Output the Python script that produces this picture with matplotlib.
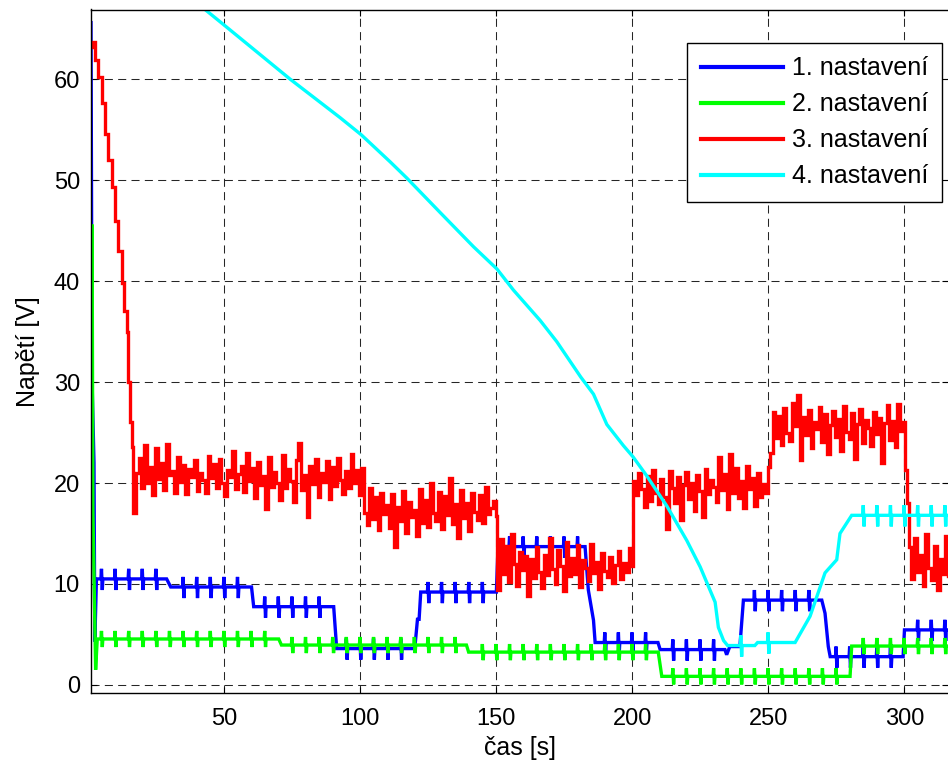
import numpy as np
import matplotlib
matplotlib.use("Agg")
import matplotlib.pyplot as plt

plt.rcParams['font.family'] = ['Liberation Sans', 'DejaVu Sans']
plt.rcParams['lines.scale_dashes'] = False

# ---------------- data ----------------
x_ticks = [50, 100, 150, 200, 250, 300]
y_ticks = [0, 10, 20, 30, 40, 50, 60]
labels = ["1. nastavení", "2. nastavení", "3. nastavení", "4. nastavení"]
colors = ["#0000FF", "#00FF00", "#FF0000", "#00FFFF"]

# periodic disturbance instants (s)
tick_times = [5, 10, 15, 20, 25, 30, 35, 40, 45, 50, 55, 60, 65, 70, 75, 80,
              85, 90, 95, 100, 105, 110, 115, 120, 125, 130, 135, 140, 145,
              150, 155, 160, 165, 170, 175, 180, 185, 190, 195, 200, 205, 210,
              215, 220, 225, 230, 235, 240, 245, 250, 255, 260, 265, 270, 275,
              280, 285, 290, 295, 300, 305, 310, 315]

# series 1 (blue): start transient, then level segments (start, end, level)
blue_head_t = [1.0, 1.4, 2.1, 2.4]
blue_head_v = [65.6, 30.0, 22.0, 4.3]
blue_seg_start = [3.0, 30.3, 60.8, 91.3, 121.0, 122.2, 150.6, 183.8, 185.7, 186.3, 210.2, 234.5, 235.8, 240.8, 270.8, 272.0, 272.7, 300.0]
blue_seg_end   = [28.8, 60.0, 90.2, 120.0, 121.6, 150.0, 182.6, 183.8, 185.7, 209.4, 234.0, 234.8, 239.5, 269.6, 270.8, 272.0, 299.5, 316.0]
blue_seg_level = [10.5, 9.7, 7.75, 3.6, 6.5, 9.2, 13.7, 9.4, 6.4, 4.2, 3.5, 3.1, 3.8, 8.4, 7.1, 3.8, 2.8, 5.45]

# series 2 (green)
green_head_t = [1.0, 1.4, 1.7, 2.7]
green_head_v = [31.0, 45.6, 17.3, 1.5]
green_seg_start = [3.3, 71.0, 139.8, 210.8, 280.6]
green_seg_end   = [70.0, 139.0, 209.5, 280.0, 316.0]
green_seg_level = [4.55, 3.95, 3.25, 0.85, 3.85]

# series 3 (red): start decay
red_head_t = [1.0, 1.25, 2.5, 3.7, 4.9, 6.1, 7.25, 8.6, 9.8, 11.0, 12.3, 13.1, 14.2, 14.6, 15.3, 16.0]
red_head_v = [63.2, 63.7, 61.9, 60.2, 57.6, 54.6, 52.0, 49.3, 46.0, 43.0, 39.8, 37.0, 35.0, 30.0, 26.0, 23.6]
# noisy segments: (start time, end time, samples)
red_b = [17.0, 21.0, 22.5, 19.5, 23.8, 20.0, 21.6, 18.8, 23.5, 20.4, 22.0, 19.3, 23.9, 20.8,
         21.2, 19.0, 22.6, 20.1, 21.8, 18.9, 21.4, 20.6, 22.3, 19.2, 21.0, 20.3, 19.0, 22.7,
         20.5, 21.9, 19.5, 22.4, 20.0, 18.7, 21.3, 20.6, 23.2, 19.4, 20.9, 21.7, 19.1, 23.0,
         20.2, 21.5, 18.5, 22.1, 19.8, 20.7, 17.4, 22.6, 19.6, 21.1, 20.0, 18.3, 22.8, 19.5,
         21.4, 20.2, 18.1, 22.3, 24.0, 19.3, 20.8, 16.6, 21.7, 19.9, 22.4, 18.6, 21.0, 20.1,
         22.2, 18.4, 21.6, 19.7, 22.5, 20.3, 18.9, 21.2, 19.5, 22.9, 20.0, 21.3, 18.8]
red_c = [21.5, 17.0, 15.8, 19.5, 16.4, 18.6, 15.3, 19.0, 16.9, 17.8, 15.5, 18.9, 13.7, 17.6,
         16.2, 19.2, 15.0, 18.1, 16.6, 17.3, 14.8, 19.4, 16.0, 18.3, 15.6, 20.0, 17.0, 16.2,
         19.1, 15.4, 18.7, 16.8, 20.5, 15.9, 17.9, 14.6, 19.3, 16.5, 18.0, 15.2, 19.0, 17.1,
         16.3, 18.8, 16.0, 19.6, 16.9, 17.5, 18.2, 16.7]
red_d = [9.4, 14.5, 11.0, 13.8, 10.2, 14.9, 12.0, 9.8, 13.2, 11.4, 12.8, 8.8, 12.5, 10.6,
         13.7, 11.2, 9.6, 12.9, 10.9, 14.6, 11.5, 10.0, 13.4, 11.8, 9.3, 14.2, 10.8, 12.6,
         11.0, 13.9, 9.7, 12.4, 11.6, 10.3, 14.0, 11.1, 12.2, 9.5, 13.1, 11.3, 10.7, 12.7,
         10.1, 11.9, 13.3, 10.5, 12.1, 11.2, 13.6, 11.8]
red_e = [20.2, 18.8, 21.0, 19.4, 17.6, 20.7, 18.2, 21.3, 19.0, 17.9, 20.4, 18.6, 15.4, 21.2,
         19.5, 18.0, 20.6, 16.3, 19.8, 21.1, 18.4, 20.0, 17.2, 20.8, 19.2, 16.6, 21.4, 18.9,
         20.3, 19.6, 18.1, 22.6, 19.3, 20.9, 17.4, 22.9, 19.0, 21.5, 18.5, 20.2, 17.5, 21.7,
         19.4, 20.5, 17.7, 21.0, 18.6, 19.9, 19.0, 21.6]
red_f = [23.0, 27.0, 24.5, 26.6, 23.8, 27.4, 25.0, 24.2, 27.9, 25.6, 28.7, 22.3, 26.5, 24.8,
         27.2, 23.5, 26.0, 25.3, 27.5, 24.1, 26.8, 22.9, 25.7, 27.1, 24.6, 26.3, 23.2, 27.6,
         25.1, 24.4, 26.9, 22.4, 25.8, 27.3, 24.0, 26.2, 25.4, 23.7, 27.0, 24.9, 26.4, 22.0,
         25.9, 27.7, 24.3, 26.1, 23.6, 27.8, 25.2, 26.0]
red_drop_t = [300.2, 301.0, 301.8]
red_drop_v = [21.3, 18.0, 13.7]
red_g = [10.5, 14.6, 11.2, 12.9, 9.8, 14.9, 11.6, 10.4, 13.8, 9.4, 12.5, 11.0, 14.8, 10.8]
red_seg_start = [16.5, 100.3, 150.3, 200.2, 250.5]
red_seg_end = [99.5, 149.8, 199.6, 249.8, 299.4]
red_g_start, red_g_end = 302.5, 316.0

# series 4 (cyan): falling curve, then level segments
cyan_head_t = [42.9, 50.2, 74.2, 92.5, 100.3, 111.0, 117.1, 129.3, 141.6, 150.2, 156.3, 166.1,
               172.2, 181.0, 185.7, 190.6, 196.7, 200.2, 205.3, 212.7, 220.0, 224.9, 230.4,
               231.6, 233.5]
cyan_head_v = [66.9, 65.3, 60.0, 56.2, 54.5, 51.8, 50.2, 46.8, 43.4, 41.2, 39.1, 36.1, 34.0,
               30.5, 28.8, 25.8, 23.7, 22.6, 20.7, 17.7, 14.3, 11.7, 8.2, 5.7, 4.4]
cyan_seg_start = [235.0, 246.0, 265.3, 270.8, 275.1, 276.3, 280.6]
cyan_seg_end   = [245.0, 259.8, 265.3, 270.8, 275.1, 276.3, 316.0]
cyan_seg_level = [3.9, 4.2, 6.8, 11.1, 12.4, 15.0, 16.8]
cyan_tick_times = [235, 240, 250, 260, 285, 290, 295, 300, 305, 310, 315]


def build(head_t, head_v, starts, ends, levels, ticks, up, down):
    t = list(head_t)
    v = list(head_v)
    for s, e, L in zip(starts, ends, levels):
        t.append(s); v.append(L)
        for tk in ticks:
            if s + 0.3 < tk < e - 0.3:
                t += [tk - 0.35, tk - 0.15, tk + 0.15, tk + 0.35]
                v += [L, L + up, L - down, L]
        t.append(e); v.append(L)
    return t, v


bt, bv = build(blue_head_t, blue_head_v, blue_seg_start, blue_seg_end,
               blue_seg_level, tick_times, 1.0, 1.1)
gt, gv = build(green_head_t, green_head_v, green_seg_start, green_seg_end,
               green_seg_level, tick_times, 0.8, 0.8)
ct, cv = build(cyan_head_t, cyan_head_v, cyan_seg_start, cyan_seg_end,
               cyan_seg_level, cyan_tick_times, 1.0, 1.1)

rt = list(red_head_t)
rv = list(red_head_v)
for s, e, vals in zip(red_seg_start, red_seg_end, [red_b, red_c, red_d, red_e, red_f]):
    rt += list(np.linspace(s, e, len(vals)))
    rv += list(vals)
rt += red_drop_t
rv += red_drop_v
rt += list(np.linspace(red_g_start, red_g_end, len(red_g)))
rv += red_g

# ---------------- figure ----------------
W, H = 948, 763
fig = plt.figure(figsize=(W / 100, H / 100), dpi=100)
ax = fig.add_axes([91 / W, (H - 693) / H, (948 - 91) / W, (693 - 9.5) / H])

lw = 2.4
series = [(bt, bv), (gt, gv), (rt, rv), (ct, cv)]
styles = ['default', 'default', 'steps-post', 'default']
for (t, v), c, lab, ds in zip(series, colors, labels, styles):
    ax.plot(t, v, color=c, lw=lw, label=lab, drawstyle=ds, solid_joinstyle='miter')

ax.set_xlim(1, 316)
ax.set_ylim(-0.8, 66.9)
ax.set_xticks(x_ticks)
ax.set_yticks(y_ticks)
fs = 18
ax.tick_params(direction='in', length=4.5, width=0.8, top=True, right=True,
               labelsize=17)
ax.tick_params(axis='x', pad=11)
ax.tick_params(axis='y', pad=8)
ax.grid(True, color='0.15', linestyle=(0, (5.8, 3.8)), lw=0.75)
for sp in ax.spines.values():
    sp.set_linewidth(1.0)
ax.spines['right'].set_visible(False)

ax.set_xlabel("čas [s]", fontsize=fs, labelpad=4)
ax.set_ylabel("Napětí [V]", fontsize=fs, labelpad=10)

leg = ax.legend(loc='upper right', bbox_to_anchor=((942 - 91) / 857, (693 - 42.7) / 683.5),
                borderaxespad=0, fontsize=fs, handlelength=3.3, handletextpad=0.35,
                labelspacing=0.48, borderpad=0.55, fancybox=False, framealpha=1,
                edgecolor='black')
leg.get_frame().set_linewidth(1.0)
for h in leg.get_lines():
    h.set_linewidth(3.0)

fig.savefig("out.png", dpi=100)
